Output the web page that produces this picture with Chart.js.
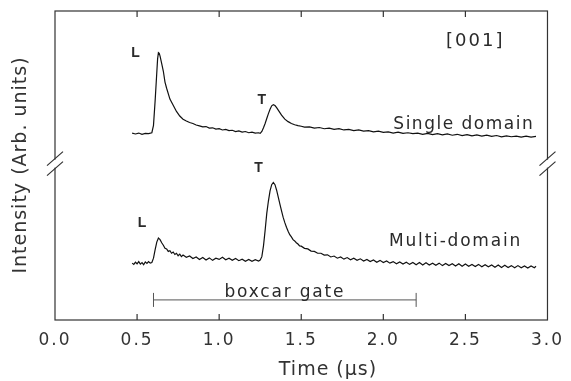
<!DOCTYPE html>
<html>
<head>
<meta charset="utf-8">
<script src="https://cdn.jsdelivr.net/npm/chart.js@4/dist/chart.umd.min.js"></script>
<style>
  html, body { margin: 0; padding: 0; background: #fff; }
  #wrap { width: 571px; height: 381px; }
</style>
</head>
<body>
<div id="wrap"><canvas id="chart" width="571" height="381"></canvas></div>
<script>
// --- data (time in us, intensity in arb. units 0..100) ---
const singleTime = [0.47,0.49,0.51,0.53,0.55,0.57,0.59,0.60,0.61,0.62,0.625,0.63,0.635,0.64,0.65,0.66,0.67,0.68,0.70,0.72,0.74,0.76,0.78,0.80,0.82,0.84,0.86,0.88,0.90,0.92,0.94,0.96,0.98,1.00,1.02,1.04,1.06,1.08,1.10,1.12,1.14,1.16,1.18,1.20,1.22,1.24,1.25,1.26,1.27,1.28,1.29,1.30,1.31,1.32,1.33,1.34,1.35,1.36,1.38,1.40,1.42,1.44,1.46,1.48,1.50,1.52,1.55,1.58,1.61,1.64,1.67,1.70,1.73,1.76,1.79,1.82,1.85,1.88,1.91,1.94,1.97,2.00,2.03,2.06,2.09,2.12,2.15,2.18,2.21,2.24,2.27,2.30,2.33,2.36,2.39,2.42,2.45,2.48,2.51,2.54,2.57,2.60,2.63,2.66,2.69,2.72,2.75,2.78,2.81,2.84,2.87,2.90,2.93];
const singleVal  = [60.5,60.2,60.5,60.1,60.4,60.3,60.6,63.0,71.0,80.0,84.5,86.5,86.3,85.4,83.0,80.5,77.0,75.0,71.5,69.5,67.5,66.0,65.0,64.4,63.9,63.6,63.1,62.8,62.5,62.6,62.1,62.2,61.8,61.9,61.5,61.7,61.3,61.4,61.0,61.2,60.8,61.0,60.6,60.8,60.5,60.6,60.4,61.0,62.2,63.6,65.2,66.8,68.2,69.3,69.7,69.4,68.7,67.9,66.3,65.0,64.2,63.6,63.2,62.9,62.7,62.4,62.5,62.1,62.3,61.9,62.1,61.7,61.9,61.5,61.7,61.3,61.5,61.1,61.3,60.9,61.1,60.7,60.9,60.5,60.8,60.4,60.6,60.3,60.5,60.1,60.4,60.0,60.3,59.9,60.2,59.8,60.1,59.7,60.0,59.6,59.9,59.5,59.8,59.4,59.7,59.3,59.6,59.3,59.5,59.2,59.5,59.2,59.4];

const multiTime = [0.47,0.48,0.49,0.50,0.51,0.52,0.53,0.54,0.55,0.56,0.57,0.58,0.59,0.60,0.61,0.62,0.63,0.64,0.65,0.66,0.67,0.68,0.69,0.70,0.71,0.72,0.73,0.74,0.75,0.76,0.77,0.78,0.80,0.82,0.84,0.86,0.88,0.90,0.92,0.94,0.96,0.98,1.00,1.02,1.04,1.06,1.08,1.10,1.12,1.14,1.16,1.18,1.20,1.22,1.24,1.25,1.26,1.27,1.28,1.29,1.30,1.31,1.32,1.33,1.34,1.35,1.36,1.37,1.38,1.39,1.40,1.41,1.42,1.43,1.44,1.45,1.46,1.47,1.48,1.49,1.50,1.52,1.54,1.56,1.58,1.60,1.62,1.64,1.66,1.68,1.70,1.72,1.74,1.76,1.78,1.80,1.82,1.84,1.86,1.88,1.90,1.92,1.94,1.96,1.98,2.00,2.02,2.04,2.06,2.08,2.10,2.12,2.14,2.16,2.18,2.20,2.22,2.24,2.26,2.28,2.30,2.32,2.34,2.36,2.38,2.40,2.42,2.44,2.46,2.48,2.50,2.52,2.54,2.56,2.58,2.60,2.62,2.64,2.66,2.68,2.70,2.72,2.74,2.76,2.78,2.80,2.82,2.84,2.86,2.88,2.90,2.92,2.93];
const multiVal  = [18.4,18.0,18.7,18.2,18.9,18.1,18.6,17.9,18.8,18.3,18.9,18.4,18.6,20.0,22.8,25.2,26.5,26.0,25.0,24.2,23.2,23.0,22.2,22.4,21.6,22.0,21.2,21.6,20.8,21.3,20.5,21.0,20.3,20.7,19.9,20.4,19.6,20.2,19.4,20.1,19.3,20.0,19.6,20.3,19.5,20.0,19.3,19.9,19.2,19.7,19.0,19.6,19.0,19.5,19.1,19.4,20.5,24.0,29.0,34.5,38.5,41.8,43.8,44.5,43.8,42.0,39.8,37.5,35.3,33.2,31.5,30.0,28.7,27.6,26.9,26.0,25.6,25.0,24.6,24.0,23.9,23.2,23.0,22.3,22.2,21.6,21.6,21.0,21.1,20.4,20.7,20.0,20.4,19.7,20.2,19.5,20.0,19.3,19.8,19.1,19.6,18.9,19.4,18.7,19.3,18.6,19.1,18.4,18.9,18.2,18.8,18.1,18.7,18.0,18.6,17.9,18.6,17.8,18.5,17.8,18.4,17.7,18.4,17.6,18.3,17.6,18.2,17.5,18.2,17.4,18.1,17.4,18.0,17.3,18.0,17.2,17.9,17.2,17.8,17.1,17.8,17.0,17.7,17.0,17.6,16.9,17.6,16.9,17.5,16.8,17.5,16.9,17.4,17.1];

const xTicks = [0.0, 0.5, 1.0, 1.5, 2.0, 2.5, 3.0];

// boxcar gate: start, end (us) and its level
const gateRange = [0.6, 2.2];
const gateLevel = 6.5;
// axis break level
const breakLevel = 50.6;

// annotation texts: [text, time, level, font, letter spacing]
const notes = [
    ['L', 0.49, 86.5, 'bold 14px "Liberation Sans"', '0px'],
    ['T', 1.26, 71.0, 'bold 14px "Liberation Sans"', '0px'],
    ['L', 0.53, 31.3, 'bold 14px "Liberation Sans"', '0px'],
    ['T', 1.24, 49.0, 'bold 14px "Liberation Sans"', '0px'],
    ['[001]', 2.56, 90.3, '18px "DejaVu Sans"', '2px'],
    ['Single domain', 2.49, 63.3, '17px "DejaVu Sans"', '1.5px'],
    ['Multi-domain', 2.44, 25.5, '17px "DejaVu Sans"', '1.8px'],
    ['boxcar gate', 1.40, 9.0, '17px "DejaVu Sans"', '1.8px']
];

const ink = '#2a2a2a';

const toPoints = (xs, ys) => xs.map((x, i) => ({ x: x, y: ys[i] }));

// wider letter spacing like the plotter font of the original
const spacingPlugin = {
    id: 'spacing',
    beforeDraw(chart) {
        chart.ctx.letterSpacing = '2px';
    }
};

// --- frame, inward ticks, breaks, gate and labels ---
const decorPlugin = {
    id: 'decor',
    afterDatasetsDraw(chart) {
        const { ctx, chartArea: a, scales: { x, y } } = chart;
        ctx.save();

        // frame
        ctx.strokeStyle = '#333';
        ctx.lineWidth = 1.2;
        ctx.strokeRect(a.left, a.top, a.right - a.left, a.bottom - a.top);

        // inward tick marks top and bottom
        ctx.beginPath();
        xTicks.forEach(t => {
            const px = x.getPixelForValue(t);
            if (px <= a.left + 1 || px >= a.right - 1) return;
            ctx.moveTo(px, a.bottom); ctx.lineTo(px, a.bottom - 6);
            ctx.moveTo(px, a.top); ctx.lineTo(px, a.top + 6);
        });
        ctx.stroke();

        // axis breaks on both sides
        const by = y.getPixelForValue(breakLevel);
        [a.left, a.right].forEach(ax => {
            ctx.fillStyle = '#fff';
            ctx.fillRect(ax - 2, by - 4, 4, 8);
            ctx.beginPath();
            ctx.moveTo(ax - 8, by + 2); ctx.lineTo(ax + 8, by - 12);
            ctx.moveTo(ax - 8, by + 12); ctx.lineTo(ax + 8, by - 2);
            ctx.stroke();
        });

        // boxcar gate
        const g0 = x.getPixelForValue(gateRange[0]);
        const g1 = x.getPixelForValue(gateRange[1]);
        const gy = y.getPixelForValue(gateLevel);
        ctx.strokeStyle = '#555';
        ctx.lineWidth = 1;
        ctx.beginPath();
        ctx.moveTo(g0, gy); ctx.lineTo(g1, gy);
        ctx.moveTo(g0, gy - 7); ctx.lineTo(g0, gy + 7);
        ctx.moveTo(g1, gy - 7); ctx.lineTo(g1, gy + 7);
        ctx.stroke();

        // annotations
        ctx.fillStyle = ink;
        ctx.textAlign = 'center';
        ctx.textBaseline = 'middle';
        notes.forEach(([text, t, v, font, sp]) => {
            ctx.font = font;
            ctx.letterSpacing = sp;
            ctx.fillText(text, x.getPixelForValue(t), y.getPixelForValue(v));
        });

        // axis titles
        ctx.font = '19px "DejaVu Sans"';
        ctx.fillStyle = '#333';
        ctx.letterSpacing = '1px';
        ctx.fillText('Time (\u03bcs)', 328, 370);
        ctx.save();
        ctx.translate(21, 165);
        ctx.rotate(-Math.PI / 2);
        ctx.fillText('Intensity (Arb. units)', 0, 0);
        ctx.restore();

        ctx.restore();
    }
};

const ctx = document.getElementById('chart').getContext('2d');
new Chart(ctx, {
    type: 'line',
    data: {
        datasets: [
            {
                label: 'Single domain',
                data: toPoints(singleTime, singleVal),
                borderColor: '#111',
                borderWidth: 1.2,
                pointRadius: 0,
                tension: 0
            },
            {
                label: 'Multi-domain',
                data: toPoints(multiTime, multiVal),
                borderColor: '#111',
                borderWidth: 1.2,
                pointRadius: 0,
                tension: 0
            }
        ]
    },
    options: {
        responsive: false,
        animation: false,
        layout: { padding: { top: 11, right: 15, left: 0, bottom: 0 } },
        plugins: {
            legend: { display: false },
            tooltip: { enabled: false }
        },
        scales: {
            x: {
                type: 'linear',
                min: 0,
                max: 3,
                afterFit: s => { s.height = 61; },
                afterBuildTicks: s => { s.ticks = xTicks.map(v => ({ value: v })); },
                grid: { display: false, drawTicks: false },
                border: { display: false },
                ticks: {
                    padding: 10,
                    color: '#333',
                    font: { family: 'DejaVu Sans', size: 17 },
                    maxRotation: 0,
                    callback: v => Number(v).toFixed(1)
                }
            },
            y: {
                min: 0,
                max: 100,
                afterFit: s => { s.width = 55; },
                grid: { display: false },
                border: { display: false },
                ticks: { display: false }
            }
        }
    },
    plugins: [spacingPlugin, decorPlugin]
});
</script>
</body>
</html>
